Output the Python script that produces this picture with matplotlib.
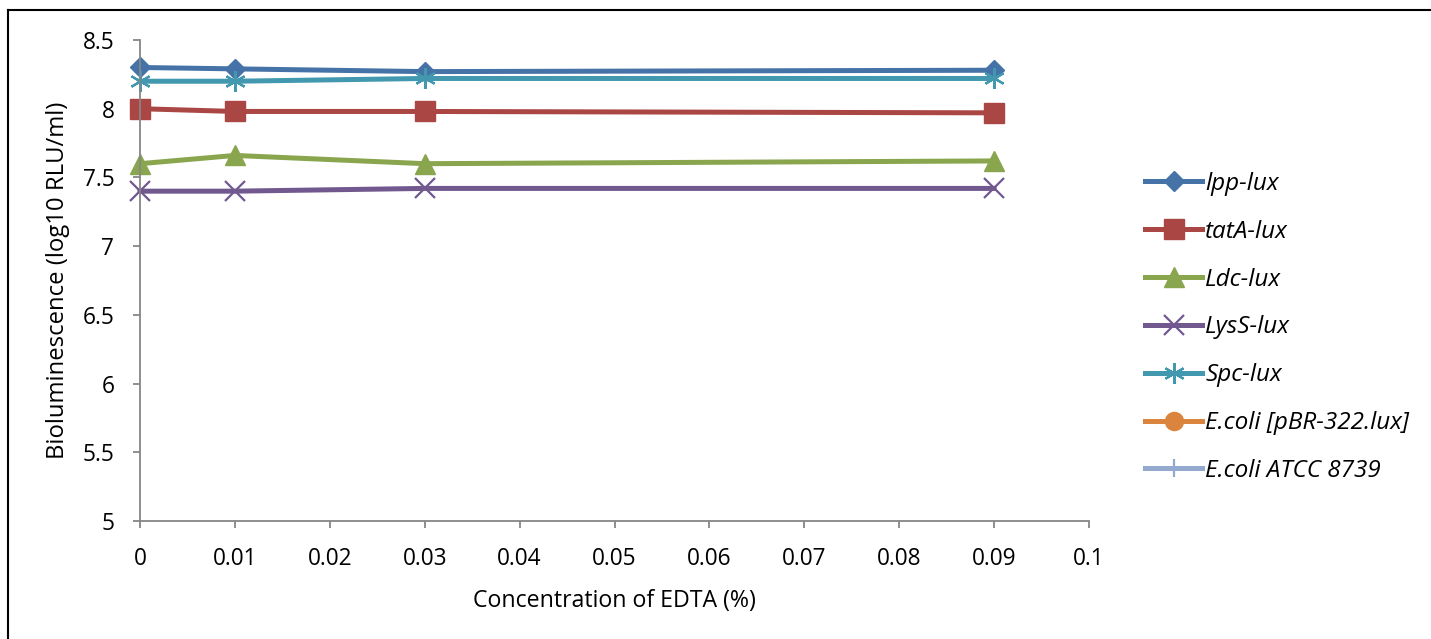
import numpy as np
import matplotlib
matplotlib.use("Agg")
import matplotlib.pyplot as plt
from matplotlib.lines import Line2D

plt.rcParams['font.family'] = ['Open Sans', 'DejaVu Sans']

# data
conc = [0, 0.01, 0.03, 0.09]
lpp = [8.30, 8.29, 8.27, 8.28]
tatA = [8.00, 7.98, 7.98, 7.97]
ldc = [7.60, 7.66, 7.60, 7.62]
lysS = [7.40, 7.40, 7.42, 7.42]
spc = [8.20, 8.20, 8.22, 8.22]
ecoli_pbr = []   # no values plotted
ecoli_atcc = []  # no values plotted

names = ['lpp-lux', 'tatA-lux', 'Ldc-lux', 'LysS-lux', 'Spc-lux',
         'E.coli [pBR-322.lux]', 'E.coli ATCC 8739']
xticks = [0, 0.01, 0.02, 0.03, 0.04, 0.05, 0.06, 0.07, 0.08, 0.09, 0.1]
xtick_labels = ['0', '0.01', '0.02', '0.03', '0.04', '0.05', '0.06', '0.07', '0.08', '0.09', '0.1']
yticks = [5, 5.5, 6, 6.5, 7, 7.5, 8, 8.5]
ytick_labels = ['5', '5.5', '6', '6.5', '7', '7.5', '8', '8.5']

W, H = 1431, 639
fig = plt.figure(figsize=(W/100, H/100), dpi=100)
ax = fig.add_axes([140/W, 1-521/H, (1089-140)/W, (521-40)/H])

lw = 3.6
ax.plot(conc, lpp, color='#4572A7', lw=lw, marker='D', ms=10, label=names[0])
ax.plot(conc, tatA, color='#AA4643', lw=lw, marker='s', ms=15, label=names[1])
ax.plot(conc, ldc, color='#89A54E', lw=lw, marker='^', ms=15, label=names[2])
ax.plot(conc, lysS, color='#71588F', lw=lw, marker='x', ms=14, mew=1.6, label=names[3])
ax.plot(conc, spc, color='#4198AF', lw=lw, marker=(6, 2, 0), ms=15, mew=1.6, label=names[4])
ax.plot(conc[:len(ecoli_pbr)], ecoli_pbr, color='#DB843D', lw=lw, marker='o', ms=13, label=names[5])
ax.plot(conc[:len(ecoli_atcc)], ecoli_atcc, color='#93A9CF', lw=lw, marker='|', ms=13, mew=1.6, label=names[6])

ax.set_xlim(0, 0.1)
ax.set_ylim(5, 8.5)
ax.set_xticks(xticks)
ax.set_xticklabels(xtick_labels)
ax.set_yticks(yticks)
ax.set_yticklabels(ytick_labels)
ax.tick_params(direction='out', length=5, width=1.3, color='#868686', labelsize=16.3, pad=13.5)
for s in ['top', 'right']:
    ax.spines[s].set_visible(False)
for s in ['left', 'bottom']:
    ax.spines[s].set_color('#868686')
    ax.spines[s].set_linewidth(1.3)
for l in ax.lines:
    l.set_clip_on(False)

ax.set_xlabel('Concentration of EDTA (%)', fontsize=16.7, labelpad=13.5)
ax.set_ylabel('Bioluminescence (log10 RLU/ml)', fontsize=17.2, labelpad=9)

leg = fig.legend(loc='upper left', bbox_to_anchor=(1145/W, 1-172/H), frameon=False,
                 prop={'style': 'italic', 'size': 17.5}, handlelength=2.35,
                 handletextpad=0.12, labelspacing=0.98, borderaxespad=0, borderpad=0)

# outer frame (top and left edges visible)
fig.add_artist(Line2D([8/W, 1], [1-10/H, 1-10/H], color='black', lw=1.5))
fig.add_artist(Line2D([8/W, 8/W], [0, 1-10/H], color='black', lw=1.5))

fig.savefig('out.png', dpi=100)
